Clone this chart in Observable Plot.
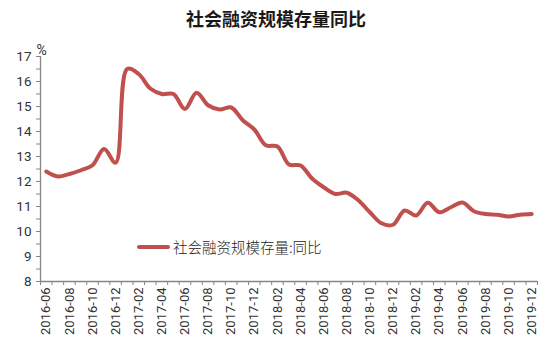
<!DOCTYPE html>
<html>
<head>
<meta charset="utf-8">
<script src="https://cdn.jsdelivr.net/npm/d3@7"></script>
<script src="https://cdn.jsdelivr.net/npm/@observablehq/plot@0.6"></script>
<style>
  html, body { margin: 0; padding: 0; background: #fff; }
  #wrap { position: relative; width: 550px; height: 352px; overflow: hidden; }
  #title { height: 35px; line-height: 36px; text-align: center; font-family: "Noto Sans CJK SC", sans-serif; font-weight: bold; font-size: 18px; color: #1a1a1a; padding-left: 2px; }
  #legend { position: absolute; left: 137px; top: 236px; display: flex; align-items: center; font-family: "Noto Sans CJK SC", sans-serif; font-weight: 300; font-size: 14.5px; color: #222; }
  #legend .sw { width: 33px; height: 4px; border-radius: 2px; background: #C0504D; margin-right: 3px; }
</style>
</head>
<body>
<div id="wrap">
  <div id="title">社会融资规模存量同比</div>
  <div id="chart"></div>
  <div id="legend"><span class="sw"></span><span>社会融资规模存量:同比</span></div>
</div>
<script>
const months = [
  "2016-06","2016-07","2016-08","2016-09","2016-10","2016-11","2016-12",
  "2017-01","2017-02","2017-03","2017-04","2017-05","2017-06","2017-07","2017-08","2017-09","2017-10","2017-11","2017-12",
  "2018-01","2018-02","2018-03","2018-04","2018-05","2018-06","2018-07","2018-08","2018-09","2018-10","2018-11","2018-12",
  "2019-01","2019-02","2019-03","2019-04","2019-05","2019-06","2019-07","2019-08","2019-09","2019-10","2019-11","2019-12"
];
const growth = [
  12.4, 12.2, 12.3, 12.45, 12.65, 13.3, 12.75,
  16.5, 16.3, 15.72, 15.5, 15.5, 14.9, 15.55, 15.05, 14.88, 14.96, 14.45, 14.08,
  13.45, 13.4, 12.68, 12.64, 12.12, 11.77, 11.5, 11.55, 11.25, 10.77, 10.33, 10.27,
  10.84, 10.64, 11.15, 10.77, 10.97, 11.16, 10.81, 10.7, 10.67, 10.6, 10.67, 10.7
];
const yTicks = [8, 9, 10, 11, 12, 13, 14, 15, 16, 17];
const yMinorTicks = [8, 8.5, 9, 9.5, 10, 10.5, 11, 11.5, 12, 12.5, 13, 13.5, 14, 14.5, 15, 15.5, 16, 16.5, 17];
const seriesName = "社会融资规模存量:同比";

const data = months.map((m, i) => ({i, month: m, value: growth[i]}));
const labelIdx = months.map((m, i) => i).filter(i => i % 2 === 0);
const boundaries = months.map((m, i) => i - 0.5).concat([months.length - 0.5]);
const axisColor = "#868686";

const chart = Plot.plot({
  width: 550,
  height: 317,
  marginTop: 21,
  marginBottom: 71,
  marginLeft: 40,
  marginRight: 13,
  style: {fontFamily: "Roboto, sans-serif", color: "#333", background: "#fff"},
  x: {type: "linear", domain: [-0.5, months.length - 0.5]},
  y: {domain: [8, 17]},
  marks: [
    Plot.ruleX([-0.5], {y1: 8, y2: 17, stroke: axisColor, strokeWidth: 1.3}),
    Plot.ruleY([8], {x1: -0.5, x2: months.length - 0.5, stroke: axisColor, strokeWidth: 1.3}),
    Plot.axisY({ticks: yMinorTicks, tickSize: 4, tickFormat: () => "", stroke: axisColor, label: null}),
    Plot.axisY({ticks: yTicks, tickSize: 0, tickPadding: 9, fontSize: 13.5, label: null, fill: "#333"}),
    Plot.axisX({ticks: boundaries, tickSize: 4, tickFormat: () => "", stroke: axisColor, label: null}),
    Plot.axisX({ticks: labelIdx, tickFormat: i => months[i], tickRotate: -90, tickSize: 0, tickPadding: 6, fontSize: 13, label: null, fill: "#333"}),
    Plot.text(["%"], {frameAnchor: "top-left", dx: -4, dy: -11, fontSize: 14, fill: "#333"}),
    Plot.line(data, {x: "i", y: "value", stroke: "#C0504D", strokeWidth: 4, curve: "catmull-rom", strokeLinecap: "round", strokeLinejoin: "round"})
  ]
});
document.getElementById("chart").appendChild(chart);
</script>
</body>
</html>
